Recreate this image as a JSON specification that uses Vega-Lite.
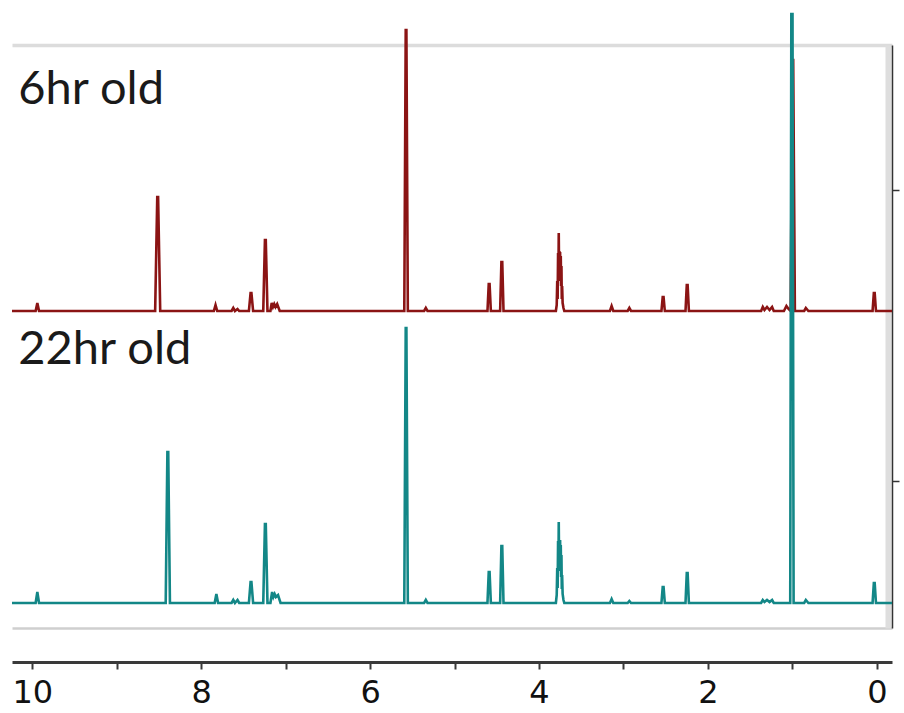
{
  "$schema": "https://vega.github.io/schema/vega-lite/v6.json",
  "width": 880,
  "height": 583,
  "autosize": {"type": "none"},
  "padding": {"left": 12, "top": 45, "right": 12, "bottom": 85},
  "background": "white",
  "config": {"view": {"stroke": null}, "font": "Lato"},
  "datasets": {
    "red": [
      {"ppm": 10.24, "v": 0}, {"ppm": 9.96, "v": 0}, {"ppm": 9.94, "v": 8}, {"ppm": 9.92, "v": 0},
      {"ppm": 8.545, "v": 0}, {"ppm": 8.52, "v": 114}, {"ppm": 8.51, "v": 114}, {"ppm": 8.485, "v": 0},
      {"ppm": 7.85, "v": 0}, {"ppm": 7.83, "v": 6}, {"ppm": 7.81, "v": 0},
      {"ppm": 7.64, "v": 0}, {"ppm": 7.62, "v": 3}, {"ppm": 7.60, "v": 0}, {"ppm": 7.57, "v": 2}, {"ppm": 7.55, "v": 0},
      {"ppm": 7.435, "v": 0}, {"ppm": 7.415, "v": 18}, {"ppm": 7.405, "v": 18}, {"ppm": 7.385, "v": 0},
      {"ppm": 7.265, "v": 0}, {"ppm": 7.245, "v": 71}, {"ppm": 7.235, "v": 71}, {"ppm": 7.215, "v": 0},
      {"ppm": 7.18, "v": 0}, {"ppm": 7.165, "v": 8}, {"ppm": 7.15, "v": 4}, {"ppm": 7.135, "v": 7}, {"ppm": 7.12, "v": 4}, {"ppm": 7.10, "v": 7}, {"ppm": 7.07, "v": 0},
      {"ppm": 5.595, "v": 0}, {"ppm": 5.578, "v": 281}, {"ppm": 5.57, "v": 281}, {"ppm": 5.553, "v": 0},
      {"ppm": 5.36, "v": 0}, {"ppm": 5.34, "v": 3}, {"ppm": 5.32, "v": 0},
      {"ppm": 4.61, "v": 0}, {"ppm": 4.595, "v": 27}, {"ppm": 4.585, "v": 27}, {"ppm": 4.57, "v": 0},
      {"ppm": 4.46, "v": 0}, {"ppm": 4.445, "v": 49}, {"ppm": 4.435, "v": 49}, {"ppm": 4.42, "v": 0},
      {"ppm": 3.80, "v": 0}, {"ppm": 3.79, "v": 6}, {"ppm": 3.784, "v": 30}, {"ppm": 3.779, "v": 12},
      {"ppm": 3.774, "v": 58}, {"ppm": 3.770, "v": 30}, {"ppm": 3.766, "v": 78}, {"ppm": 3.762, "v": 40},
      {"ppm": 3.758, "v": 60}, {"ppm": 3.754, "v": 35}, {"ppm": 3.750, "v": 59}, {"ppm": 3.746, "v": 30},
      {"ppm": 3.742, "v": 55}, {"ppm": 3.738, "v": 25}, {"ppm": 3.734, "v": 45}, {"ppm": 3.730, "v": 12},
      {"ppm": 3.726, "v": 25}, {"ppm": 3.72, "v": 8}, {"ppm": 3.71, "v": 3}, {"ppm": 3.70, "v": 0},
      {"ppm": 3.16, "v": 0}, {"ppm": 3.14, "v": 5}, {"ppm": 3.12, "v": 0},
      {"ppm": 2.95, "v": 0}, {"ppm": 2.93, "v": 3}, {"ppm": 2.91, "v": 0},
      {"ppm": 2.55, "v": 0}, {"ppm": 2.535, "v": 14}, {"ppm": 2.525, "v": 14}, {"ppm": 2.51, "v": 0},
      {"ppm": 2.265, "v": 0}, {"ppm": 2.25, "v": 26}, {"ppm": 2.24, "v": 26}, {"ppm": 2.225, "v": 0},
      {"ppm": 1.37, "v": 0}, {"ppm": 1.35, "v": 4}, {"ppm": 1.33, "v": 1}, {"ppm": 1.30, "v": 4}, {"ppm": 1.27, "v": 1}, {"ppm": 1.24, "v": 4}, {"ppm": 1.22, "v": 0},
      {"ppm": 1.10, "v": 0}, {"ppm": 1.07, "v": 5}, {"ppm": 1.045, "v": 2}, {"ppm": 1.02, "v": 0}, {"ppm": 1.0, "v": 251}, {"ppm": 0.99, "v": 251}, {"ppm": 0.97, "v": 0},
      {"ppm": 0.86, "v": 0}, {"ppm": 0.84, "v": 3}, {"ppm": 0.81, "v": 0},
      {"ppm": 0.05, "v": 0}, {"ppm": 0.035, "v": 18}, {"ppm": 0.025, "v": 18}, {"ppm": 0.01, "v": 0},
      {"ppm": -0.18, "v": 0}
    ],
    "teal": [
      {"ppm": 10.24, "v": 0}, {"ppm": 9.96, "v": 0}, {"ppm": 9.94, "v": 11}, {"ppm": 9.92, "v": 0},
      {"ppm": 8.42, "v": 0}, {"ppm": 8.40, "v": 151}, {"ppm": 8.39, "v": 151}, {"ppm": 8.37, "v": 0},
      {"ppm": 7.84, "v": 0}, {"ppm": 7.82, "v": 9}, {"ppm": 7.80, "v": 0},
      {"ppm": 7.64, "v": 0}, {"ppm": 7.62, "v": 3}, {"ppm": 7.60, "v": 0}, {"ppm": 7.57, "v": 3}, {"ppm": 7.55, "v": 0},
      {"ppm": 7.435, "v": 0}, {"ppm": 7.415, "v": 21}, {"ppm": 7.405, "v": 21}, {"ppm": 7.385, "v": 0},
      {"ppm": 7.265, "v": 0}, {"ppm": 7.245, "v": 79}, {"ppm": 7.235, "v": 79}, {"ppm": 7.215, "v": 0},
      {"ppm": 7.18, "v": 0}, {"ppm": 7.16, "v": 11}, {"ppm": 7.145, "v": 6}, {"ppm": 7.13, "v": 9}, {"ppm": 7.115, "v": 6}, {"ppm": 7.09, "v": 8}, {"ppm": 7.06, "v": 0},
      {"ppm": 5.595, "v": 0}, {"ppm": 5.578, "v": 275}, {"ppm": 5.57, "v": 275}, {"ppm": 5.553, "v": 0},
      {"ppm": 5.36, "v": 0}, {"ppm": 5.34, "v": 3}, {"ppm": 5.32, "v": 0},
      {"ppm": 4.61, "v": 0}, {"ppm": 4.595, "v": 31}, {"ppm": 4.585, "v": 31}, {"ppm": 4.57, "v": 0},
      {"ppm": 4.46, "v": 0}, {"ppm": 4.445, "v": 57}, {"ppm": 4.435, "v": 57}, {"ppm": 4.42, "v": 0},
      {"ppm": 3.80, "v": 0}, {"ppm": 3.79, "v": 8}, {"ppm": 3.784, "v": 35}, {"ppm": 3.779, "v": 15},
      {"ppm": 3.774, "v": 62}, {"ppm": 3.770, "v": 32}, {"ppm": 3.766, "v": 81}, {"ppm": 3.762, "v": 42},
      {"ppm": 3.758, "v": 63}, {"ppm": 3.754, "v": 38}, {"ppm": 3.750, "v": 63}, {"ppm": 3.746, "v": 32},
      {"ppm": 3.742, "v": 58}, {"ppm": 3.738, "v": 26}, {"ppm": 3.734, "v": 48}, {"ppm": 3.730, "v": 14},
      {"ppm": 3.726, "v": 28}, {"ppm": 3.72, "v": 9}, {"ppm": 3.71, "v": 3}, {"ppm": 3.70, "v": 0},
      {"ppm": 3.16, "v": 0}, {"ppm": 3.14, "v": 4}, {"ppm": 3.12, "v": 0},
      {"ppm": 2.95, "v": 0}, {"ppm": 2.93, "v": 2}, {"ppm": 2.91, "v": 0},
      {"ppm": 2.55, "v": 0}, {"ppm": 2.535, "v": 16}, {"ppm": 2.525, "v": 16}, {"ppm": 2.51, "v": 0},
      {"ppm": 2.265, "v": 0}, {"ppm": 2.25, "v": 30}, {"ppm": 2.24, "v": 30}, {"ppm": 2.225, "v": 0},
      {"ppm": 1.37, "v": 0}, {"ppm": 1.35, "v": 3}, {"ppm": 1.33, "v": 1}, {"ppm": 1.30, "v": 3}, {"ppm": 1.27, "v": 1}, {"ppm": 1.24, "v": 3}, {"ppm": 1.22, "v": 0},
      {"ppm": 1.025, "v": 0}, {"ppm": 1.012, "v": 589}, {"ppm": 0.998, "v": 589}, {"ppm": 0.985, "v": 0},
      {"ppm": 0.86, "v": 0}, {"ppm": 0.84, "v": 3}, {"ppm": 0.81, "v": 0},
      {"ppm": 0.05, "v": 0}, {"ppm": 0.035, "v": 20}, {"ppm": 0.025, "v": 20}, {"ppm": 0.01, "v": 0},
      {"ppm": -0.18, "v": 0}
    ],
    "redLabel": [{"ppm": 10.165, "v": 207, "label": "6hr old"}],
    "tealLabel": [{"ppm": 10.165, "v": 239, "label": "22hr old"}]
  },
  "encoding": {
    "x": {"field": "ppm", "type": "quantitative", "scale": {"domain": [-0.18, 10.24], "reverse": true, "nice": false, "zero": false}}
  },
  "layer": [
    {
      "data": {"name": "red"},
      "mark": {"type": "line", "color": "#8B1414", "strokeWidth": 2.6, "clip": false, "interpolate": "linear"},
      "encoding": {
        "x": {"field": "ppm", "type": "quantitative", "axis": {"orient": "top", "domainColor": "#dcdcdc", "domainWidth": 3.5, "ticks": false, "labels": false, "grid": false, "title": null}},
        "y": {"field": "v", "type": "quantitative", "scale": {"domain": [-317, 266], "nice": false, "zero": false}, "axis": {"orient": "right", "offset": -4, "domainColor": "#dedede", "domainWidth": 6, "ticks": false, "labels": false, "grid": false, "title": null}}
      }
    },
    {
      "data": {"name": "redLabel"},
      "mark": {"type": "text", "align": "left", "baseline": "alphabetic", "fontSize": 47, "font": "Lato", "color": "#1a1a1a", "clip": false},
      "encoding": {
        "x": {"field": "ppm", "type": "quantitative", "axis": null},
        "y": {"field": "v", "type": "quantitative", "scale": {"domain": [-317, 266], "nice": false, "zero": false}, "axis": null},
        "text": {"field": "label"}
      }
    },
    {
      "data": {"name": "teal"},
      "mark": {"type": "line", "color": "#138787", "strokeWidth": 2.6, "clip": false, "interpolate": "linear"},
      "encoding": {
        "x": {"field": "ppm", "type": "quantitative", "axis": {"orient": "bottom", "offset": 34, "values": [0, 1, 2, 3, 4, 5, 6, 7, 8, 9, 10], "labelExpr": "datum.value % 2 === 0 ? datum.label : ''", "domainColor": "#3a3a3a", "domainWidth": 3, "tickColor": "#3a3a3a", "tickWidth": 2, "tickSize": 7, "labelFontSize": 32, "labelFont": "DejaVu Sans", "labelColor": "#111111", "labelPadding": 8, "labelFlush": false, "labelOverlap": false, "grid": false, "title": null}},
        "y": {"field": "v", "type": "quantitative", "scale": {"domain": [-25, 558], "nice": false, "zero": false}, "axis": {"orient": "right", "values": [122, 413], "domainColor": "#333333", "domainWidth": 1.5, "tickColor": "#333333", "tickWidth": 1.5, "tickSize": 7, "labels": false, "grid": false, "title": null}}
      }
    },
    {
      "data": {"name": "tealLabel"},
      "mark": {"type": "text", "align": "left", "baseline": "alphabetic", "fontSize": 47, "font": "Lato", "color": "#1a1a1a", "clip": false},
      "encoding": {
        "x": {"field": "ppm", "type": "quantitative", "axis": {"orient": "bottom", "offset": 0, "domainColor": "#cfcfcf", "domainWidth": 2.5, "ticks": false, "labels": false, "grid": false, "title": null}},
        "y": {"field": "v", "type": "quantitative", "scale": {"domain": [-25, 558], "nice": false, "zero": false}, "axis": null},
        "text": {"field": "label"}
      }
    }
  ],
  "resolve": {"scale": {"y": "independent"}, "axis": {"x": "independent", "y": "independent"}}
}
